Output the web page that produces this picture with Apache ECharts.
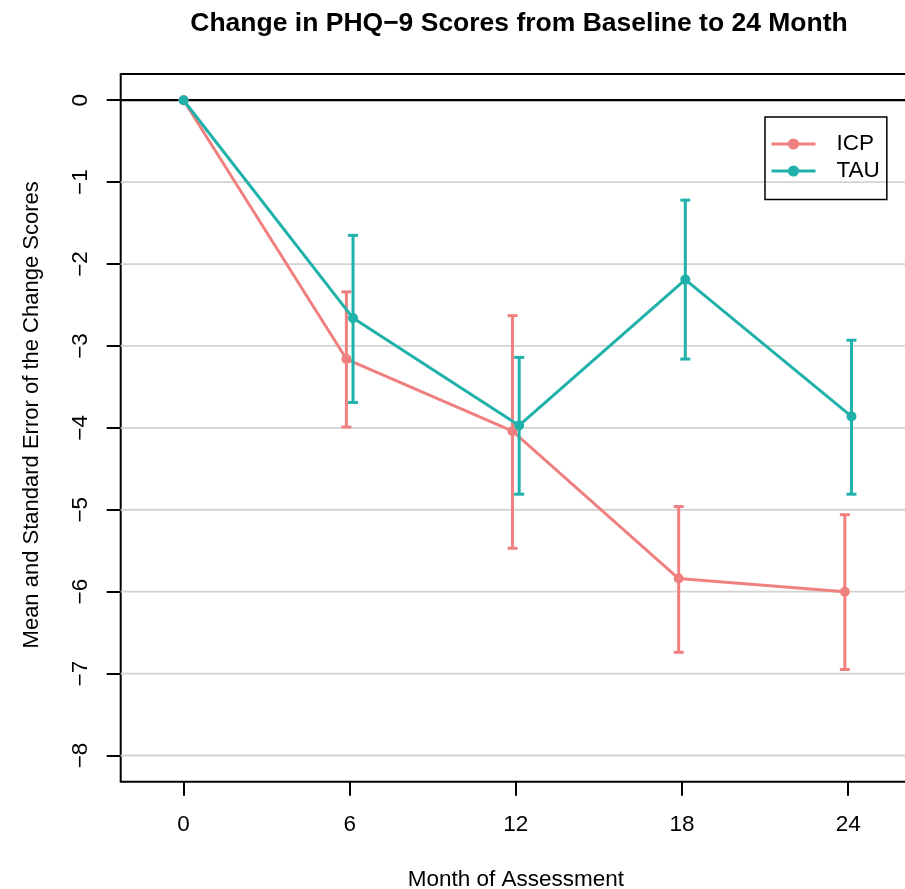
<!DOCTYPE html>
<html>
<head>
<meta charset="utf-8">
<script src="https://cdn.jsdelivr.net/npm/echarts@6/dist/echarts.min.js"></script>
<style>html,body{margin:0;padding:0;background:#fff;}#c{width:905px;height:889px;}</style>
</head>
<body>
<div id="c"></div>
<script>
// ---- data ----
const monthTicks = [0, 6, 12, 18, 24];
const yTicks = [0, -1, -2, -3, -4, -5, -6, -7, -8];
const yTickLabels = ['0', '\u22121', '\u22122', '\u22123', '\u22124', '\u22125', '\u22126', '\u22127', '\u22128'];
const icpX = [0, 5.88, 11.88, 17.88, 23.88];
const icpMean = [0, -3.16, -4.04, -5.84, -6.00];
const icpUpper = [null, -2.34, -2.63, -4.96, -5.06];
const icpLower = [null, -3.99, -5.47, -6.74, -6.95];
const tauX = [0, 6.12, 12.12, 18.12, 24.12];
const tauMean = [0, -2.66, -3.97, -2.19, -3.86];
const tauUpper = [null, -1.65, -3.14, -1.22, -2.93];
const tauLower = [null, -3.69, -4.81, -3.16, -4.81];
const gridValues = [-1, -2, -3, -4, -5, -6, -7, -8];
const zeroLine = [0];

const ICP_COLOR = '#F08080';
const TAU_COLOR = '#20B2AA';
const FONT = 'Liberation Sans, Arial, Helvetica, sans-serif';

const chart = echarts.init(document.getElementById('c'), null, {renderer: 'canvas'});

function pairs(xs, ys) { return xs.map((x, i) => [x, ys[i]]); }
function barData(xs, up, lo) {
  const out = [];
  xs.forEach((x, i) => { if (up[i] !== null) out.push([x, up[i], lo[i]]); });
  return out;
}
function errRender(color) {
  return function (params, api) {
    const top = api.coord([api.value(0), api.value(1)]);
    const bot = api.coord([api.value(0), api.value(2)]);
    const hw = 5;
    const style = {stroke: color, lineWidth: 3};
    return {
      type: 'group',
      children: [
        {type: 'line', shape: {x1: top[0], y1: top[1], x2: bot[0], y2: bot[1]}, style: style},
        {type: 'line', shape: {x1: top[0] - hw, y1: top[1], x2: top[0] + hw, y2: top[1]}, style: style},
        {type: 'line', shape: {x1: bot[0] - hw, y1: bot[1], x2: bot[0] + hw, y2: bot[1]}, style: style}
      ]
    };
  };
}
function hlineRender(color, width) {
  return function (params, api) {
    const cs = params.coordSys;
    const p = api.coord([0, api.value(0)]);
    return {type: 'line', shape: {x1: cs.x, y1: p[1], x2: cs.x + cs.width, y2: p[1]},
            style: {stroke: color, lineWidth: width}};
  };
}

chart.setOption({
  animation: false,
  backgroundColor: '#ffffff',
  title: {
    text: 'Change in PHQ\u22129 Scores from Baseline to 24 Month',
    left: 514, top: 5, textAlign: 'center',
    textStyle: {fontFamily: FONT, fontWeight: 'bold', fontSize: 26.5, color: '#000'}
  },
  legend: {
    orient: 'vertical',
    left: 765, top: 117,
    data: ['ICP', 'TAU'],
    itemWidth: 44, itemHeight: 14, itemGap: 2,
    padding: [14.5, 7, 16, 5],
    borderColor: '#000', borderWidth: 1.5,
    lineStyle: {width: 3},
    textStyle: {fontFamily: FONT, fontSize: 22.5, lineHeight: 25, color: '#000', padding: [0, 0, 0, 16]}
  },
  grid: {
    left: 120.7, top: 74, width: 790.3, height: 707.7,
    outerBoundsMode: 'none', containLabel: false,
    show: true, borderColor: '#000', borderWidth: 2, backgroundColor: 'transparent'
  },
  xAxis: {
    type: 'value', min: -2.27, max: 26.27,
    name: 'Month of Assessment', nameLocation: 'middle', nameGap: 87,
    nameTextStyle: {fontFamily: FONT, fontSize: 22.5, color: '#000'},
    axisLine: {show: false, onZero: false},
    axisTick: {show: true, length: 14, lineStyle: {color: '#000', width: 2}, customValues: monthTicks},
    axisLabel: {show: true, margin: 32, fontFamily: FONT, fontSize: 22.5, color: '#000',
      customValues: monthTicks, formatter: v => String(v)},
    splitLine: {show: false}
  },
  yAxis: {
    type: 'value', min: -8.32, max: 0.32,
    name: 'Mean and Standard Error of the Change Scores', nameLocation: 'middle', nameGap: 78,
    nameTextStyle: {fontFamily: FONT, fontSize: 22, color: '#000', padding: [0, 0, 0, 26]},
    axisLine: {show: false, onZero: false},
    axisTick: {show: true, length: 14, lineStyle: {color: '#000', width: 2}, customValues: yTicks},
    axisLabel: {show: true, rotate: 90, margin: 28, fontFamily: FONT, fontSize: 22.5, color: '#000',
      customValues: yTicks,
      formatter: v => { const i = yTicks.indexOf(Math.round(v)); return i >= 0 ? yTickLabels[i] : ''; }},
    splitLine: {show: false}
  },
  series: [
    {type: 'custom', name: 'grid', silent: true, z: 1, renderItem: hlineRender('#D3D3D3', 1.8),
     data: gridValues.map(v => [v]), encode: {y: 0}},
    {type: 'custom', name: 'zero', silent: true, z: 1, renderItem: hlineRender('#000', 2.2),
     data: zeroLine.map(v => [v]), encode: {y: 0}},
    {type: 'line', name: 'ICP', data: pairs(icpX, icpMean), z: 3,
     symbol: 'circle', symbolSize: 10, showSymbol: true,
     lineStyle: {color: ICP_COLOR, width: 3}, itemStyle: {color: ICP_COLOR}},
    {type: 'custom', name: 'ICP', z: 3, renderItem: errRender(ICP_COLOR),
     data: barData(icpX, icpUpper, icpLower), encode: {x: 0, y: [1, 2]}},
    {type: 'line', name: 'TAU', data: pairs(tauX, tauMean), z: 4,
     symbol: 'circle', symbolSize: 10, showSymbol: true,
     lineStyle: {color: TAU_COLOR, width: 3}, itemStyle: {color: TAU_COLOR}},
    {type: 'custom', name: 'TAU', z: 4, renderItem: errRender(TAU_COLOR),
     data: barData(tauX, tauUpper, tauLower), encode: {x: 0, y: [1, 2]}}
  ]
});
</script>
</body>
</html>
